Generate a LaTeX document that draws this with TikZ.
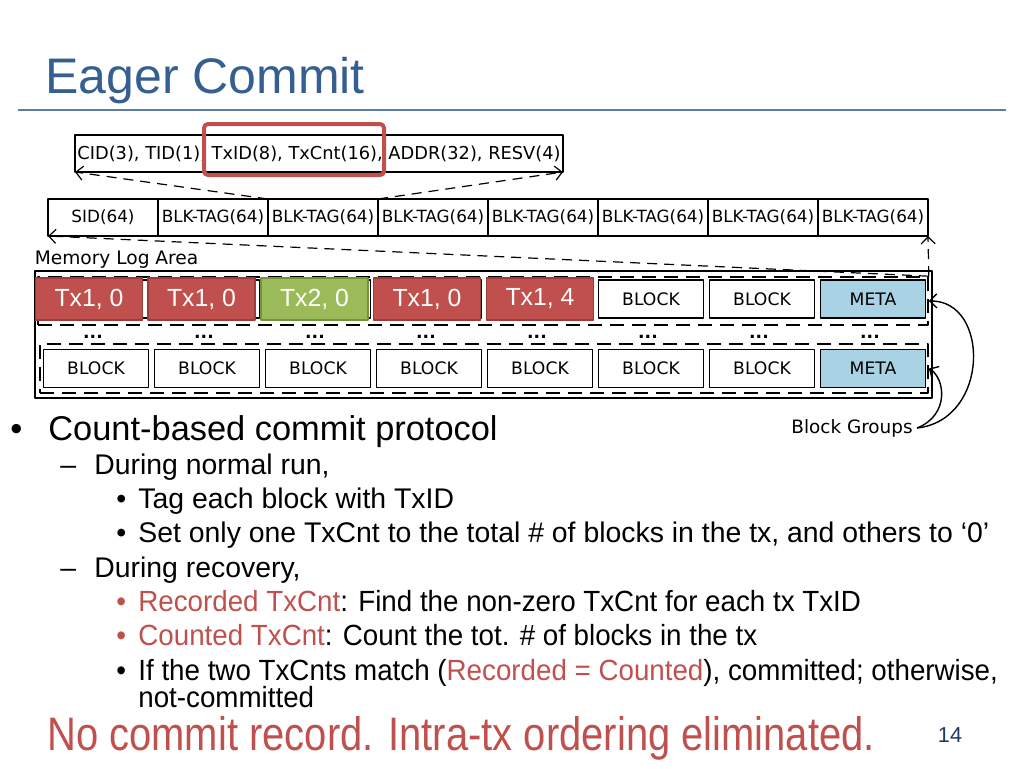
\documentclass[tikz,border=0pt]{standalone}
\usepackage{fontspec}
\setmainfont{Liberation Sans}
\newfontfamily\dejavu{DejaVu Sans}
\newfontfamily\narrowfont[FakeStretch=0.95]{Liberation Sans}
\newfontfamily\slimfont[FakeStretch=0.85]{Liberation Sans}
\usetikzlibrary{positioning,arrows.meta}
\definecolor{titleblue}{HTML}{365F91}
\definecolor{rulegray}{HTML}{5B7DA6}
\definecolor{txred}{HTML}{C0504D}
\definecolor{txredd}{HTML}{9A3D3A}
\definecolor{txgreen}{HTML}{9BBB59}
\definecolor{txgreend}{HTML}{76923C}
\definecolor{metablue}{HTML}{A9D3E4}
\definecolor{pageblue}{HTML}{1F3864}
\tikzset{
  fieldbox/.style={draw, line width=0.7pt, outer sep=0pt, inner sep=0pt, minimum height=18.5pt, minimum width=55pt, font=\dejavu\fontsize{8.4}{10}\selectfont},
  blockbox/.style={draw, line width=0.8pt, inner sep=0pt, minimum width=52.5pt, minimum height=19pt, font=\dejavu\fontsize{8.6}{10}\selectfont},
  txbox/.style={fill=#1, draw=#1d, line width=0.6pt, inner sep=0pt, minimum width=53.5pt, minimum height=21pt, text=white, font=\fontsize{12.4}{14}\selectfont},
  groupbox/.style={draw, line width=0.8pt, dash pattern=on 7pt off 4pt, inner sep=0pt},
  linkline/.style={line width=0.6pt, dash pattern=on 5pt off 3.5pt},
  lvlone/.style={anchor=base west, inner sep=0pt, font=\fontsize{17.2}{20}\selectfont},
  lvltwo/.style={anchor=base west, inner sep=0pt, font=\fontsize{14.2}{17}\selectfont},
  lvlnarrow/.style={anchor=base west, inner sep=0pt, font=\narrowfont\fontsize{14.6}{17}\selectfont}
}
\begin{document}
\begin{tikzpicture}[x=0.5pt, y=-0.5pt, >={Straight Barb[length=3.5pt,width=7pt]}, line join=round]
  \useasboundingbox (0,0) rectangle (1024,768);
  \node[anchor=base west, inner sep=0pt, text=titleblue, font=\fontsize{25}{30}\selectfont] (title) at (45,93) {Eager Commit};
  \draw[rulegray, line width=1pt] (18,110) -- (1006,110);
  % block tag fields
  \node[fieldbox, minimum width=244pt, font=\dejavu\fontsize{8.9}{10}\selectfont] (hdr) at (319,153.5) {CID(3), TID(1), TxID(8), TxCnt(16), ADDR(32), RESV(4)};
  \node[draw=txred, line width=2pt, rounded corners=2pt, minimum width=90pt, minimum height=25.5pt] (hl) at (294,149.5) {};
  \node[fieldbox] (sid) at (103,217.5) {SID(64)};
  \node[fieldbox, right=0pt of sid] (tag1) {BLK-TAG(64)};
  \foreach \i [remember=\i as \j (initially 1)] in {2,...,7}
    \node[fieldbox, right=0pt of tag\j] (tag\i) {BLK-TAG(64)};
  \draw[linkline, ->] (tag2.north west) -- (hdr.south west);
  \draw[linkline, ->] (tag2.north east) -- (hdr.south east);
  % memory log area
  \node[draw, line width=0.6pt, minimum width=448.5pt, minimum height=63.5pt, inner sep=0pt] (mla) at (483.5,334.5) {};
  \node[anchor=south west, inner sep=0pt, font=\dejavu\fontsize{9.3}{10}\selectfont] (mlalbl) at ([yshift=1pt]mla.north west) {Memory Log Area};
  \node[groupbox, minimum width=445pt, minimum height=24pt] (grp1) at (483,301) {};
  \node[groupbox, minimum width=444pt, minimum height=24.5pt] (grp2) at (484,368.5) {};
  \foreach \lbl/\fl [count=\i from 0] in {/white,/white,/white,/white,/white,BLOCK/white,BLOCK/white,META/metablue}
    \node[blockbox, fill=\fl] (top\i) at (96+111*\i,299) {\lbl};
  \foreach \lbl/\fl [count=\i from 0] in {BLOCK/white,BLOCK/white,BLOCK/white,BLOCK/white,BLOCK/white,BLOCK/white,BLOCK/white,META/metablue}
    \node[blockbox, fill=\fl] (bot\i) at (96+111*\i,368.5) {\lbl};
  \foreach \i in {0,...,7}
    \node[inner sep=0pt, font=\dejavu\bfseries\fontsize{8.6}{10}\selectfont] (dots\i) at (93+111*\i,337) {...};
  \foreach \x/\t/\c [count=\i] in {89/{Tx1, 0}/txred, 201.5/{Tx1, 0}/txred, 314.5/{Tx2, 0}/txgreen, 427/{Tx1, 0}/txred, 540/{Tx1, 4}/txred}
    \node[txbox=\c] (tx\i) at (\x,299) {\t};
  \draw[linkline, ->] (grp1.north east) -- (sid.south west);
  \draw[linkline, ->] (grp1.north east) -- (tag7.south east);
  \node[anchor=west, inner xsep=2pt, inner ysep=0pt, font=\dejavu\fontsize{9.2}{10}\selectfont] (bg) at (787,428) {Block Groups};
  \draw[->, line width=0.7pt] (bg.east) .. controls (990,420) and (990,300) .. (grp1.east);
  \draw[->, line width=0.7pt] (bg.east) .. controls (950,415) and (945,378) .. (grp2.east);
  % bullets
  \node[lvlone] (m1) at (10,440) {•};
  \node[lvlone] (t1) at (48,440) {Count-based commit protocol};
  \node[lvltwo] (m2) at (60,474) {–};
  \node[lvltwo] (t2) at (94,474) {During normal run,};
  \node[lvltwo] (m3) at (116,508) {•};
  \node[lvltwo] (t3) at (138,508) {Tag each block with TxID};
  \node[lvltwo] (m4) at (116,542) {•};
  \node[lvltwo] (t4) at (138,542) {Set only one TxCnt to the total \# of blocks in the tx, and others to ‘0’};
  \node[lvltwo] (m5) at (60,577) {–};
  \node[lvltwo] (t5) at (94,577) {During recovery,};
  \node[lvlnarrow, text=txred] (m6) at (116,611) {•};
  \node[lvlnarrow] (t6) at (138,611) {\textcolor{txred}{Recorded TxCnt}: Find the non-zero TxCnt for each tx TxID};
  \node[lvlnarrow, text=txred] (m7) at (116,645) {•};
  \node[lvlnarrow] (t7) at (138,645) {\textcolor{txred}{Counted TxCnt}: Count the tot. \# of blocks in the tx};
  \node[lvlnarrow] (m8) at (116,680) {•};
  \node[lvlnarrow] (t8) at (138,680) {If the two TxCnts match (\textcolor{txred}{Recorded = Counted}), committed; otherwise,};
  \node[lvlnarrow] (t9) at (138,707) {not-committed};
  \node[anchor=base west, inner sep=0pt, text=txred, font=\slimfont\fontsize{23.5}{28}\selectfont] (concl) at (47,750) {No commit record. Intra-tx ordering eliminated.};
  \node[text=pageblue, inner sep=0pt, font=\fontsize{10.8}{12}\selectfont] (pg) at (950,735) {14};
\end{tikzpicture}
\end{document}
